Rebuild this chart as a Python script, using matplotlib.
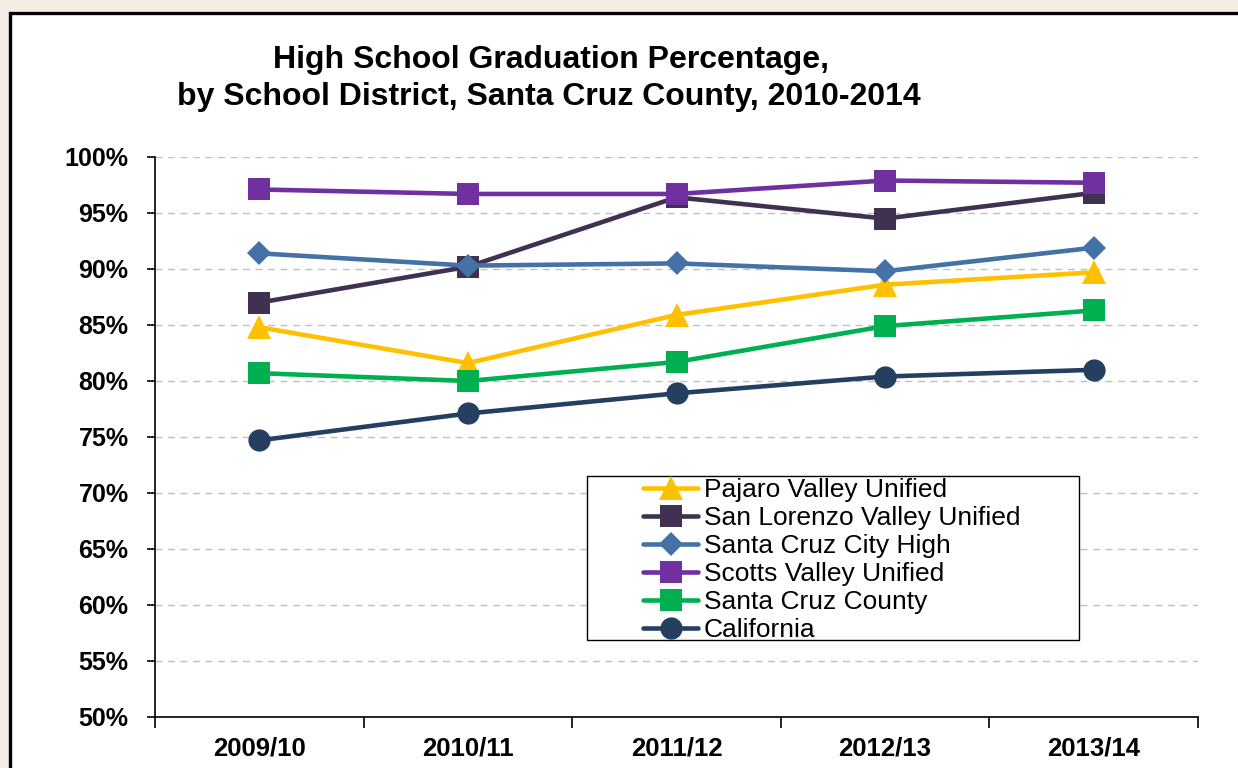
import matplotlib
matplotlib.use("Agg")
import matplotlib.pyplot as plt
from matplotlib.patches import Rectangle

plt.rcParams['font.family'] = ['Liberation Sans', 'DejaVu Sans']

# ---- data ----
years = ["2009/10", "2010/11", "2011/12", "2012/13", "2013/14"]
series_names = ["Pajaro Valley Unified", "San Lorenzo Valley Unified",
                "Santa Cruz City High", "Scotts Valley Unified",
                "Santa Cruz County", "California"]
pajaro = [84.8, 81.6, 85.9, 88.6, 89.7]
san_lorenzo = [87.0, 90.2, 96.4, 94.5, 96.8]
sc_city_high = [91.4, 90.3, 90.5, 89.8, 91.9]
scotts_valley = [97.1, 96.7, 96.7, 97.9, 97.7]
sc_county = [80.7, 80.0, 81.7, 84.9, 86.3]
california = [74.7, 77.1, 78.9, 80.4, 81.0]
y_ticks = [50, 55, 60, 65, 70, 75, 80, 85, 90, 95, 100]

series_values = [pajaro, san_lorenzo, sc_city_high, scotts_valley, sc_county, california]
colors = ["#FFC000", "#403151", "#4472A6", "#7030A0", "#00B050", "#243F60"]
markers = ["^", "s", "D", "s", "s", "o"]
msizes = [17, 16, 12, 16, 16, 16]

W, H = 1238, 768
fig = plt.figure(figsize=(W / 100, H / 100), dpi=100)
fig.patch.set_facecolor("#F4EDE6")

# white panel with black border
fig.patches.append(Rectangle((9.5 / W, -0.1), 1.2, 1.1 - 13 / H,
                             transform=fig.transFigure, facecolor="white",
                             edgecolor="black", linewidth=2.4, zorder=-10))

ax = fig.add_axes([155 / W, 1 - 717 / H, (1198 - 155) / W, (717 - 157) / H])
ax.set_facecolor("none")
ax.set_zorder(1)

x = list(range(len(years)))
handles = []
for name, vals, c, m, ms in zip(series_names, series_values, colors, markers, msizes):
    ln, = ax.plot(x, vals, color=c, lw=3.3, marker=m, markersize=ms,
                  markeredgewidth=0, label=name, solid_capstyle="round",
                  solid_joinstyle="round", zorder=3)
    handles.append(ln)

ax.set_xlim(-0.5, len(years) - 0.5)
ax.set_ylim(50, 100)
ax.set_yticks(y_ticks)
ax.set_yticklabels([f"{v}%" for v in y_ticks], fontsize=18, fontweight="bold")
ax.set_xticks(x)
ax.set_xticklabels(years, fontsize=18.5, fontweight="bold")
ax.set_xticks([i - 0.5 for i in range(len(years) + 1)], minor=True)
ax.tick_params(axis="x", which="major", length=0, pad=14)
ax.tick_params(axis="x", which="minor", length=8, width=1.2, direction="out")
ax.tick_params(axis="y", which="major", length=6, width=1.2, direction="out", pad=13)

for v in y_ticks[1:]:
    ax.axhline(v, color="#C0C0C0", lw=1.0, ls=(0, (5, 4)), zorder=1)

for s in ["top", "right"]:
    ax.spines[s].set_visible(False)
for s in ["left", "bottom"]:
    ax.spines[s].set_linewidth(1.2)

# title
fig.text(551 / W, 1 - 60 / H, "High School Graduation Percentage,",
         ha="center", va="center", fontsize=23, fontweight="bold")
fig.text(549 / W, 1 - 97 / H, "by School District, Santa Cruz County, 2010-2014",
         ha="center", va="center", fontsize=23, fontweight="bold")

# legend box (drawn in axes so it sits above the lines)
ax.add_patch(Rectangle((587 / W, 1 - 640 / H), (1079 - 587) / W, (640 - 476) / H,
                       transform=fig.transFigure, facecolor="white",
                       edgecolor="black", linewidth=1.0, zorder=5))
leg = ax.legend(handles=handles, loc="upper left",
                bbox_to_anchor=(643 / W, 1 - 478 / H),
                bbox_transform=fig.transFigure, frameon=False,
                fontsize=19, labelspacing=0.15, borderpad=0, borderaxespad=0,
                handlelength=2.1, handletextpad=0.2)
leg.set_zorder(6)

fig.savefig("out.png", dpi=100, facecolor=fig.get_facecolor())
